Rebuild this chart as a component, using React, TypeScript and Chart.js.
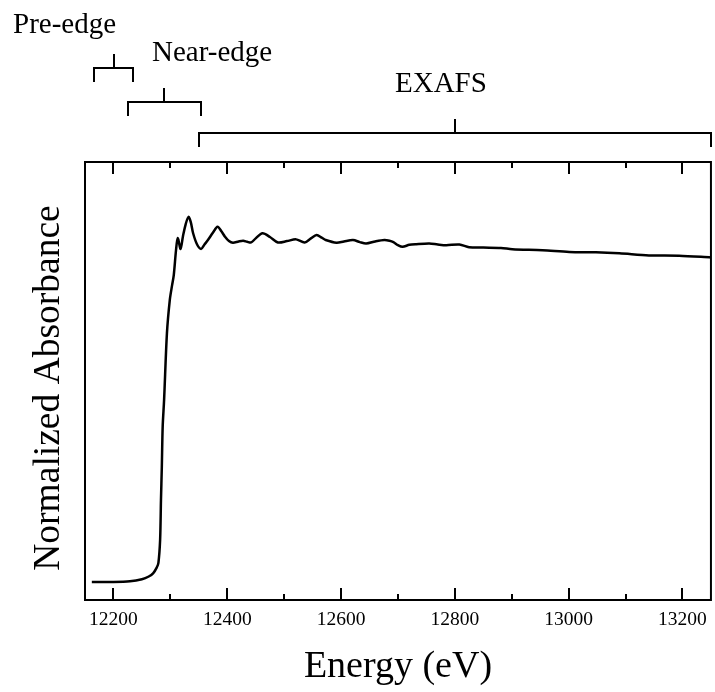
import { useEffect, useRef } from 'react';
import { Chart, registerables } from 'chart.js';

Chart.register(...registerables);

// Energy (eV) of each sampled point on the spectrum
const energy = [
  12162, 12200, 12229, 12250, 12262, 12270, 12276, 12279, 12282, 12283.5,
  12285, 12286.5, 12289, 12294, 12299, 12303, 12306, 12310, 12313, 12318,
  12322, 12327, 12332, 12336, 12340, 12347, 12354, 12360, 12366, 12375,
  12383, 12390, 12396, 12403, 12410, 12420, 12428, 12435, 12442, 12450,
  12462, 12475, 12489, 12505, 12521, 12536, 12547, 12557, 12566, 12573,
  12592, 12605, 12621, 12633, 12644, 12660, 12676, 12685, 12692, 12700,
  12708, 12720, 12732, 12755, 12770, 12785, 12808, 12825, 12850, 12881,
  12901, 12954, 13001, 13048, 13089, 13141, 13194, 13250,
];

// Normalized absorbance at each energy
const absorbance = [
  0.0, 0.0, 0.002, 0.008, 0.016, 0.026, 0.042, 0.056, 0.123, 0.24,
  0.337, 0.455, 0.534, 0.73, 0.827, 0.87, 0.9, 0.974, 1.009, 0.977,
  1.013, 1.05, 1.071, 1.055, 1.023, 0.99, 0.977, 0.99, 1.003, 1.025,
  1.042, 1.028, 1.013, 1.0, 0.995, 0.999, 1.001, 0.998, 0.996, 1.008,
  1.023, 1.012, 0.996, 1.0, 1.005, 0.996, 1.008, 1.018, 1.01, 1.003,
  0.995, 0.999, 1.003, 0.997, 0.993, 0.999, 1.003, 1.001, 0.997, 0.988,
  0.983, 0.989, 0.991, 0.993, 0.99, 0.988, 0.99, 0.982, 0.981, 0.98,
  0.976, 0.973, 0.968, 0.967, 0.964, 0.958, 0.957, 0.952,
];

const majorTicks = [12200, 12400, 12600, 12800, 13000, 13200];
const minorTicks = [12300, 12500, 12700, 12900, 13100];

// Spectral regions marked by brackets above the plot
const regionNames = ['Pre-edge', 'Near-edge', 'EXAFS'];
const regionStart = [12165, 12226, 12350];
const regionEnd = [12235, 12353, 13250];
const regionMid = [12201, 12289, 12800];

const yTitle = 'Normalized Absorbance';

const FONT = '"Liberation Serif", "Times New Roman", serif';

const framePlugin = {
  id: 'frameAndBrackets',
  afterDraw(chart: any) {
    const { ctx, chartArea: a, scales } = chart;
    const xs = scales.x;
    ctx.save();
    ctx.strokeStyle = '#000';
    ctx.fillStyle = '#000';
    ctx.lineWidth = 2;
    ctx.lineCap = 'butt';
    ctx.lineJoin = 'miter';
    ctx.strokeRect(a.left, a.top, a.right - a.left, a.bottom - a.top);

    const tick = (v: number, len: number) => {
      const px = Math.round(xs.getPixelForValue(v));
      ctx.beginPath();
      ctx.moveTo(px, a.bottom);
      ctx.lineTo(px, a.bottom - len);
      ctx.moveTo(px, a.top);
      ctx.lineTo(px, a.top + len);
      ctx.stroke();
    };
    majorTicks.forEach((v) => tick(v, 12));
    minorTicks.forEach((v) => tick(v, 6));

    const levels = [68, 102, 133];
    const labelDx = [-101, -12, -60];
    const labelDy = [-35, -41, -41];
    ctx.font = `29px ${FONT}`;
    ctx.textAlign = 'left';
    ctx.textBaseline = 'alphabetic';
    regionNames.forEach((name, i) => {
      const x0 = Math.round(xs.getPixelForValue(regionStart[i]));
      const x1 = Math.round(xs.getPixelForValue(regionEnd[i]));
      const xm = Math.round(xs.getPixelForValue(regionMid[i]));
      const y = levels[i];
      ctx.beginPath();
      ctx.moveTo(x0, y + 14);
      ctx.lineTo(x0, y);
      ctx.lineTo(x1, y);
      ctx.lineTo(x1, y + 14);
      ctx.moveTo(xm, y);
      ctx.lineTo(xm, y - 14);
      ctx.stroke();
      ctx.fillText(name, xm + labelDx[i], y + labelDy[i]);
    });

    // y-axis title, centred a little below the middle of the frame as in the reference
    ctx.font = `37.5px ${FONT}`;
    ctx.textAlign = 'center';
    ctx.textBaseline = 'middle';
    ctx.translate(49, (a.top + a.bottom) / 2 + 7);
    ctx.rotate(-Math.PI / 2);
    ctx.fillText(yTitle, 0, 0);
    ctx.restore();
  },
};

export default function App() {
  const ref = useRef<HTMLCanvasElement | null>(null);

  useEffect(() => {
    if (!ref.current) return;
    const chart = new Chart(ref.current, {
      type: 'line',
      data: {
        datasets: [
          {
            data: energy.map((e, i) => ({ x: e, y: absorbance[i] })),
            borderColor: '#000',
            borderWidth: 2.5,
            pointRadius: 0,
            tension: 0.3,
            fill: false,
          },
        ],
      },
      options: {
        responsive: false,
        animation: false,
        devicePixelRatio: 1,
        layout: { padding: { top: 162, right: 3, left: 0, bottom: 0 } },
        plugins: { legend: { display: false }, tooltip: { enabled: false } },
        scales: {
          x: {
            type: 'linear',
            min: 12150,
            max: 13250,
            afterBuildTicks: (ax: any) => {
              ax.ticks = majorTicks.map((v) => ({ value: v }));
            },
            afterFit: (s: any) => {
              s.height = 92;
            },
            grid: { display: false, drawTicks: false },
            border: { display: false },
            ticks: {
              padding: 8,
              color: '#000',
              font: { family: FONT, size: 19.5 },
              maxRotation: 0,
              autoSkip: false,
              callback: (v: any) => String(v),
            },
            title: {
              display: true,
              text: 'Energy (eV)',
              color: '#000',
              font: { family: FONT, size: 38 },
              padding: { top: 0, bottom: 2 },
            },
          },
          y: {
            type: 'linear',
            min: -0.053,
            max: 1.232,
            afterFit: (s: any) => {
              s.width = 85;
            },
            grid: { display: false, drawTicks: false },
            border: { display: false },
            ticks: { display: false },
            title: { display: false, text: yTitle },
          },
        },
      },
      plugins: [framePlugin],
    });
    return () => chart.destroy();
  }, []);

  return (
    <div style={{ position: 'absolute', left: 0, top: 0, width: 715, height: 692, background: '#fff' }}>
      <canvas ref={ref} width={715} height={692} />
    </div>
  );
}
